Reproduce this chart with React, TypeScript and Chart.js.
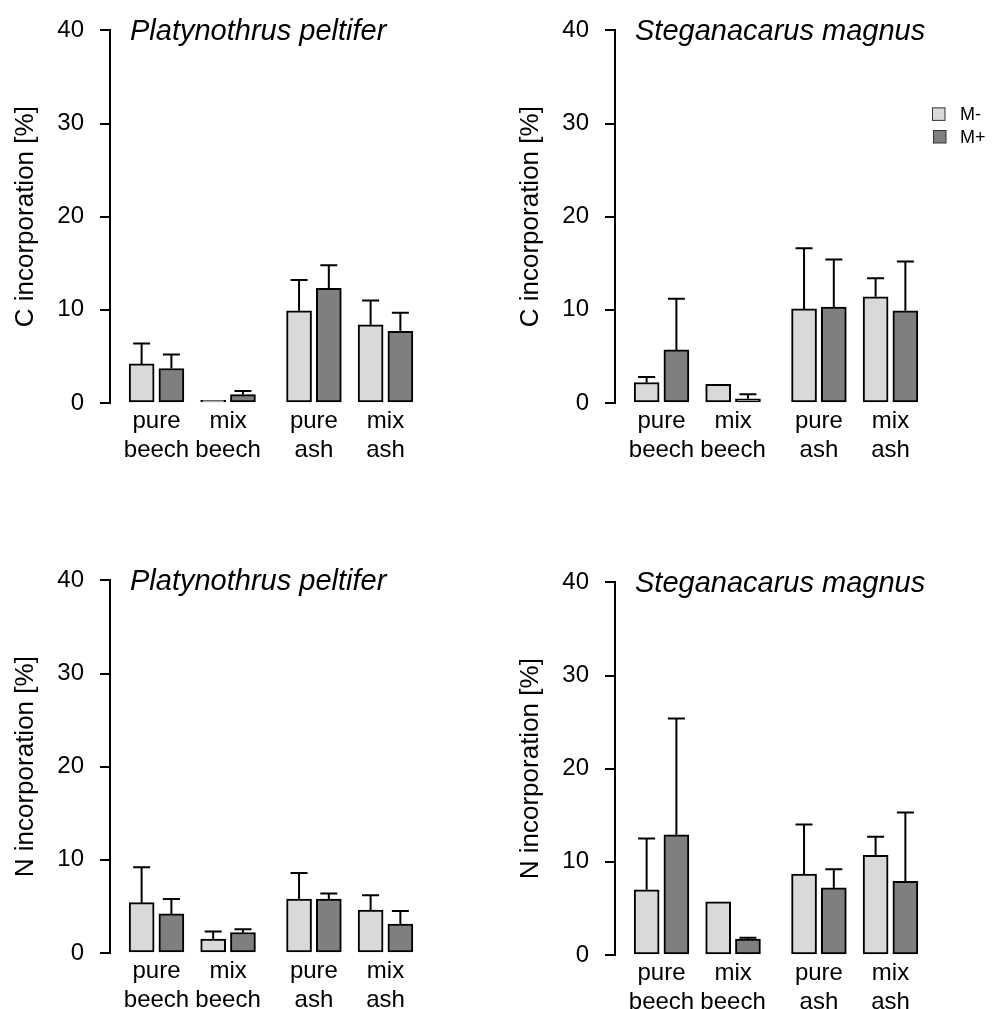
import React, { useEffect, useRef } from "react";
import { Chart, registerables } from "chart.js";

Chart.register(...registerables);

// ---------- data ----------
const categories: string[][] = [
  ["pure", "beech"],
  ["mix", "beech"],
  ["pure", "ash"],
  ["mix", "ash"],
];
const seriesNames = ["M-", "M+"];
const yTicks = [0, 10, 20, 30, 40];

// C incorporation, Platynothrus peltifer
const cPeltiferMinus = [4.2, 0.3, 9.9, 8.4];
const cPeltiferMinusErr = [2.2, 0, 3.3, 2.6];
const cPeltiferPlus = [3.7, 0.9, 12.3, 7.7];
const cPeltiferPlusErr = [1.5, 0.4, 2.5, 2.0];

// C incorporation, Steganacarus magnus
const cMagnusMinus = [2.2, 2.0, 10.1, 11.4];
const cMagnusMinusErr = [0.6, 0, 6.5, 2.0];
const cMagnusPlus = [5.7, 0.45, 10.3, 9.9];
const cMagnusPlusErr = [5.5, 0.5, 5.1, 5.3];

// N incorporation, Platynothrus peltifer
const nPeltiferMinus = [5.4, 1.5, 5.8, 4.6];
const nPeltiferMinusErr = [3.8, 0.8, 2.8, 1.6];
const nPeltiferPlus = [4.2, 2.2, 5.8, 3.1];
const nPeltiferPlusErr = [1.6, 0.35, 0.6, 1.4];

// N incorporation, Steganacarus magnus
const nMagnusMinus = [7.0, 5.7, 8.7, 10.7];
const nMagnusMinusErr = [5.5, 0, 5.3, 2.0];
const nMagnusPlus = [12.9, 1.7, 7.2, 7.9];
const nMagnusPlusErr = [12.5, 0.15, 2.0, 7.4];

// ---------- layout / style ----------
const FONT = "'Liberation Sans', Arial, Helvetica, sans-serif";
const COLOR_MINUS = "#d9d9d9";
const COLOR_PLUS = "#7f7f7f";
const CANVAS_W = 489;
const CANVAS_H = 480;
const AXIS_W = 110;
const PAD_TOP = 25;
const PAD_RIGHT = 57;
const X_AXIS_H = CANVAS_H - PAD_TOP - 378;
const X_MIN = -0.65;
const X_MAX = 3.85;
const GROUP_GAP = 0.2;
const BAR_OFFSET = 0.208;
const BAR_W = 25;
const CAP = 8.5;
const LINE_W = 2;

type PanelDef = {
  title: string;
  yLabel: string;
  minus: number[];
  minusErr: number[];
  plus: number[];
  plusErr: number[];
  left: number;
  top: number;
  legend: boolean;
};

const panels: PanelDef[] = [
  { title: "Platynothrus peltifer", yLabel: "C incorporation [%]", minus: cPeltiferMinus, minusErr: cPeltiferMinusErr, plus: cPeltiferPlus, plusErr: cPeltiferPlusErr, left: 0, top: 0, legend: false },
  { title: "Steganacarus magnus", yLabel: "C incorporation [%]", minus: cMagnusMinus, minusErr: cMagnusMinusErr, plus: cMagnusPlus, plusErr: cMagnusPlusErr, left: 505, top: 0, legend: true },
  { title: "Platynothrus peltifer", yLabel: "N incorporation [%]", minus: nPeltiferMinus, minusErr: nPeltiferMinusErr, plus: nPeltiferPlus, plusErr: nPeltiferPlusErr, left: 0, top: 550, legend: false },
  { title: "Steganacarus magnus", yLabel: "N incorporation [%]", minus: nMagnusMinus, minusErr: nMagnusMinusErr, plus: nMagnusPlus, plusErr: nMagnusPlusErr, left: 505, top: 552, legend: false },
];

const errorBarPlugin = {
  id: "errorBars",
  afterDatasetsDraw(chart: any) {
    const ctx = chart.ctx;
    const yScale = chart.scales.y;
    chart.data.datasets.forEach((ds: any, di: number) => {
      const meta = chart.getDatasetMeta(di);
      meta.data.forEach((bar: any, i: number) => {
        const e = ds.err[i];
        if (!(e > 0)) return;
        const v = ds.data[i].y;
        const y0 = yScale.getPixelForValue(v);
        const y1 = yScale.getPixelForValue(v + e);
        ctx.save();
        ctx.strokeStyle = "#000";
        ctx.lineWidth = LINE_W;
        ctx.beginPath();
        ctx.moveTo(bar.x, y0);
        ctx.lineTo(bar.x, y1);
        ctx.moveTo(bar.x - CAP, y1);
        ctx.lineTo(bar.x + CAP, y1);
        ctx.stroke();
        ctx.restore();
      });
    });
  },
};

function Panel({ def }: { def: PanelDef }) {
  const ref = useRef<HTMLCanvasElement>(null);
  useEffect(() => {
    const pos = categories.map((_, i) => i + (i >= 2 ? GROUP_GAP : 0));
    const titlePlugin = {
      id: "panelTitle",
      afterDraw(chart: any) {
        const { ctx, chartArea } = chart;
        ctx.save();
        ctx.fillStyle = "#000";
        ctx.font = `italic 29px ${FONT}`;
        ctx.textAlign = "left";
        ctx.textBaseline = "alphabetic";
        ctx.fillText(def.title, chartArea.left + 20, chartArea.top + 10);
        if (def.legend) {
          const colors = [COLOR_MINUS, COLOR_PLUS];
          seriesNames.forEach((name, k) => {
            const sx = chartArea.right - 5 + k;
            const sy = chartArea.top + 77 + k * 22.6;
            ctx.fillStyle = colors[k];
            ctx.fillRect(sx, sy, 13, 13);
            ctx.strokeStyle = "#333";
            ctx.lineWidth = 1;
            ctx.strokeRect(sx + 0.5, sy + 0.5, 12.5, 12.5);
            ctx.fillStyle = "#000";
            ctx.font = `18px ${FONT}`;
            ctx.fillText(name, chartArea.right + 23, sy + 12.5);
          });
        }
        ctx.restore();
      },
    };
    const barCommon = {
      borderColor: "#000",
      borderWidth: LINE_W,
      borderSkipped: false,
      barThickness: BAR_W,
      grouped: false,
    };
    const chart = new Chart(ref.current as HTMLCanvasElement, {
      type: "bar",
      data: {
        datasets: [
          {
            ...barCommon,
            label: seriesNames[0],
            data: def.minus.map((v, i) => ({ x: pos[i] - BAR_OFFSET, y: v })),
            err: def.minusErr,
            backgroundColor: COLOR_MINUS,
          } as any,
          {
            ...barCommon,
            label: seriesNames[1],
            data: def.plus.map((v, i) => ({ x: pos[i] + BAR_OFFSET, y: v })),
            err: def.plusErr,
            backgroundColor: COLOR_PLUS,
          } as any,
        ],
      },
      options: {
        responsive: false,
        animation: false,
        layout: { padding: { top: PAD_TOP, right: PAD_RIGHT, left: 0, bottom: 0 }, autoPadding: false },
        plugins: {
          legend: { display: false },
          tooltip: { enabled: false },
          title: { display: false },
        },
        scales: {
          x: {
            type: "linear",
            min: X_MIN,
            max: X_MAX,
            offset: false,
            afterBuildTicks: (s: any) => {
              s.ticks = pos.map((v) => ({ value: v }));
            },
            ticks: {
              callback: (_v: any, i: number) => categories[i],
              font: { family: FONT, size: 24 },
              color: "#000",
              padding: 4,
              autoSkip: false,
              maxRotation: 0,
              minRotation: 0,
            },
            grid: { display: false, drawTicks: false },
            border: { display: false },
            afterFit: (s: any) => {
              s.height = X_AXIS_H;
            },
          },
          y: {
            type: "linear",
            min: 0,
            max: 40,
            afterBuildTicks: (s: any) => {
              s.ticks = yTicks.map((v) => ({ value: v }));
            },
            ticks: {
              font: { family: FONT, size: 24 },
              color: "#000",
              padding: 16,
            },
            grid: {
              display: true,
              drawOnChartArea: false,
              drawTicks: true,
              tickLength: 10,
              color: "#000",
              lineWidth: LINE_W,
            },
            border: { display: true, color: "#000", width: LINE_W },
            title: {
              display: true,
              text: def.yLabel,
              font: { family: FONT, size: 26 },
              color: "#000",
              padding: { top: 10, bottom: 0 },
            },
            afterFit: (s: any) => {
              s.width = AXIS_W;
            },
          },
        },
      } as any,
      plugins: [errorBarPlugin, titlePlugin],
    });
    return () => chart.destroy();
  }, [def]);
  return (
    <canvas
      ref={ref}
      width={CANVAS_W}
      height={CANVAS_H}
      style={{ position: "absolute", left: def.left, top: def.top, display: "block" }}
    />
  );
}

export default function App() {
  return (
    <div
      style={{
        position: "absolute",
        left: 0,
        top: 0,
        width: 994,
        height: 1009,
        background: "#fff",
        overflow: "hidden",
      }}
    >
      {panels.map((p, i) => (
        <Panel key={i} def={p} />
      ))}
    </div>
  );
}
